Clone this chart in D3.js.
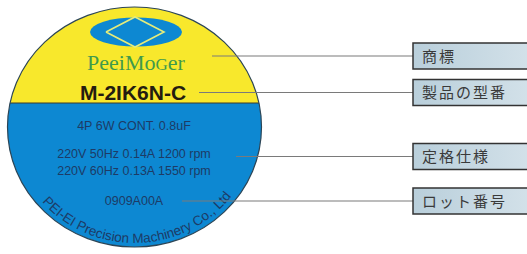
<!DOCTYPE html>
<html>
<head>
<meta charset="utf-8">
<script src="https://cdn.jsdelivr.net/npm/d3@7"></script>
<style>
  html, body { margin: 0; padding: 0; background: #fff; }
  svg { display: block; }
</style>
</head>
<body>
<div class="js-label"></div>
<script>
// Label content
const brandParts = ["PeeiMo", "G", "er"];
const modelName = "M-2IK6N-C";
const specLines = ["4P 6W CONT. 0.8uF", "220V 50Hz 0.14A 1200 rpm", "220V 60Hz 0.13A 1550 rpm"];
const lotNumber = "0909A00A";
const makerName = "PEI-EI Precision Machinery Co., Ltd";

// Callouts on the right
const calloutNames = ["商標", "製品の型番", "定格仕様", "ロット番号"];

const width = 527, height = 254;
const cx = 134.5, cy = 127, rx = 127, ry = 120;
const splitY = 103;

const svg = d3.select(".js-label").append("svg")
  .attr("width", width).attr("height", height)
  .attr("viewBox", "0 0 " + width + " " + height);

const defs = svg.append("defs");
defs.append("clipPath").attr("id", "disc")
  .append("ellipse").attr("cx", cx).attr("cy", cy).attr("rx", rx).attr("ry", ry);

const grad = defs.append("linearGradient").attr("id", "boxFill")
  .attr("x1", 0).attr("x2", 1).attr("y1", 0).attr("y2", 0);
grad.append("stop").attr("offset", "0%").attr("stop-color", "#b9cfdb");
grad.append("stop").attr("offset", "100%").attr("stop-color", "#d3e1e9");

// disc halves
const disc = svg.append("g").attr("clip-path", "url(#disc)");
disc.append("rect").attr("x", 0).attr("y", 0).attr("width", 300).attr("height", splitY)
  .attr("fill", "#f8e82c");
disc.append("rect").attr("x", 0).attr("y", splitY).attr("width", 300).attr("height", 200)
  .attr("fill", "#0d88d2");
disc.append("line").attr("x1", 0).attr("x2", 300).attr("y1", splitY).attr("y2", splitY)
  .attr("stroke", "#3a3a2a").attr("stroke-width", 1.2);

svg.append("ellipse").attr("cx", cx).attr("cy", cy).attr("rx", rx).attr("ry", ry)
  .attr("fill", "none").attr("stroke", "#2c4556").attr("stroke-width", 1.2);

// logo
svg.append("ellipse").attr("cx", 136).attr("cy", 32).attr("rx", 46).attr("ry", 14.5)
  .attr("fill", "#0d88d2");
svg.append("path")
  .attr("d", d3.line()([[106, 32], [135, 17], [164, 32], [135, 47], [106, 32]]))
  .attr("fill", "none").attr("stroke", "#e6ec7a").attr("stroke-width", 1.6);

// brand
const brand = svg.append("text").attr("x", 136).attr("y", 70)
  .attr("text-anchor", "middle")
  .attr("font-family", "'Liberation Serif', 'DejaVu Serif', serif")
  .attr("font-size", 22).attr("fill", "#3f9a4c");
brand.selectAll("tspan").data(brandParts).enter().append("tspan")
  .attr("font-size", function (d, i) { return i === 1 ? 17 : 22; })
  .text(function (d) { return d; });

svg.append("text").attr("x", 133).attr("y", 99.5)
  .attr("text-anchor", "middle")
  .attr("font-family", "'Liberation Sans', Arial, sans-serif")
  .attr("font-weight", "bold").attr("font-size", 21).attr("fill", "#241c10")
  .text(modelName);

// spec lines
const specY = d3.scaleOrdinal().domain(specLines).range([129.5, 157.5, 174.5]);
svg.selectAll(".spec").data(specLines).enter().append("text")
  .attr("class", "spec")
  .attr("x", 134).attr("y", function (d) { return specY(d); })
  .attr("text-anchor", "middle")
  .attr("font-family", "'Liberation Sans', Arial, sans-serif")
  .attr("font-size", 12.5).attr("fill", "#1d3b66")
  .text(function (d) { return d; });

svg.append("text").attr("x", 134).attr("y", 205)
  .attr("text-anchor", "middle")
  .attr("font-family", "'Liberation Sans', Arial, sans-serif")
  .attr("font-size", 12.5).attr("fill", "#1d3b66")
  .text(lotNumber);

// maker name along the bottom arc
const arcRx = 121, arcRy = 116;
const a0 = Math.PI * 0.95, a1 = Math.PI * 0.03;
const p0 = [cx + arcRx * Math.cos(a0), cy + arcRy * Math.sin(a0)];
const p1 = [cx + arcRx * Math.cos(a1), cy + arcRy * Math.sin(a1)];
defs.append("path").attr("id", "makerArc")
  .attr("d", "M" + p0[0] + "," + p0[1] + " A" + arcRx + "," + arcRy + " 0 0 0 " + p1[0] + "," + p1[1]);
svg.append("text")
  .attr("font-family", "'Liberation Sans', Arial, sans-serif")
  .attr("font-size", 13.5).attr("fill", "#1d3b66")
  .append("textPath").attr("href", "#makerArc")
  .attr("startOffset", "50%").attr("text-anchor", "middle")
  .text(makerName);

// callouts
const calloutRows = [
  { y: 56, x0: 212 },
  { y: 92.5, x0: 199 },
  { y: 156.5, x0: 236 },
  { y: 201, x0: 182 }
];
const boxX = 413, boxH = 26;
const callouts = svg.selectAll(".callout").data(calloutNames).enter().append("g")
  .attr("class", "callout");
callouts.append("line")
  .attr("x1", function (d, i) { return calloutRows[i].x0; })
  .attr("x2", boxX)
  .attr("y1", function (d, i) { return calloutRows[i].y; })
  .attr("y2", function (d, i) { return calloutRows[i].y; })
  .attr("stroke", "#7a7a7a").attr("stroke-width", 1.2);
callouts.append("rect")
  .attr("x", boxX).attr("y", function (d, i) { return calloutRows[i].y - boxH / 2; })
  .attr("width", 118).attr("height", boxH)
  .attr("fill", "url(#boxFill)").attr("stroke", "#333").attr("stroke-width", 1.5);
callouts.append("text")
  .attr("x", boxX + 9).attr("y", function (d, i) { return calloutRows[i].y + 5.5; })
  .attr("font-family", "'Noto Sans CJK JP', sans-serif")
  .attr("font-size", 15).attr("letter-spacing", 2).attr("fill", "#3a3a3a")
  .text(function (d) { return d; });
</script>
</body>
</html>
